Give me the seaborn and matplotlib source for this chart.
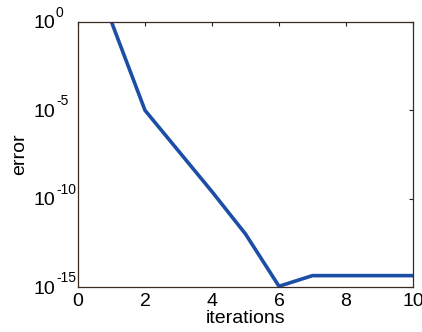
import matplotlib
matplotlib.use("Agg")
import matplotlib.pyplot as plt
import matplotlib.transforms as mtransforms
import seaborn as sns
import pandas as pd
import numpy as np

iterations = [1, 2, 3, 4, 5, 6, 7, 8, 9, 10]
error = [1e0, 1e-5, 5e-8, 2.5e-10, 1e-12, 1.1e-15, 4.4e-15, 4.4e-15, 4.4e-15, 4.4e-15]
x_ticks = [0, 2, 4, 6, 8, 10]
y_ticks = [1e-15, 1e-10, 1e-5, 1e0]
y_exponents = ["-15", "-10", "-5", "0"]

sns.set_style("white")
plt.rcParams['font.family'] = ['Liberation Sans', 'DejaVu Sans']
plt.rcParams['text.color'] = 'black'
plt.rcParams['axes.labelcolor'] = 'black'
plt.rcParams['xtick.color'] = 'black'
plt.rcParams['ytick.color'] = 'black'

df = pd.DataFrame({"iterations": iterations, "error": error})

fig = plt.figure(figsize=(4.22, 3.32), dpi=100)
ax = fig.add_axes([78/422, 1 - 287/332, 335/422, 265/332])
sns.lineplot(data=df, x="iterations", y="error", ax=ax, color="#1c4ea8", linewidth=2.6)
ax.set_yscale("log")
ax.set_xlim(0, 10)
ax.set_ylim(1e-15, 1e0)
ax.set_xticks(x_ticks)
ax.set_xticklabels([str(t) for t in x_ticks])
ax.set_yticks(y_ticks)
ax.set_yticklabels(["10"] * len(y_ticks))
ax.minorticks_off()
ax.tick_params(axis="both", direction="in", length=3, width=0.8, labelsize=14,
               top=True, right=True, color="#222222")
ax.tick_params(axis="x", pad=4)
ax.tick_params(axis="y", pad=16.5)

# exponents of the y tick labels
trans = mtransforms.blended_transform_factory(ax.transAxes, ax.transData)
off = mtransforms.ScaledTranslation(0, 9 / 100, fig.dpi_scale_trans)
for val, ex in zip(y_ticks, y_exponents):
    ax.text((56 - 78) / 335, val, ex, transform=trans + off, fontsize=10,
            ha="left", va="center", clip_on=False)

for s in ax.spines.values():
    s.set_color("#3a2a22")
    s.set_linewidth(0.9)
ax.set_xlabel("iterations", fontsize=14)
ax.set_ylabel("error", fontsize=14)
ax.xaxis.set_label_coords(0.5, -0.085)
ax.yaxis.set_label_coords(-0.149, 0.5)
fig.savefig("out.png", dpi=100)
